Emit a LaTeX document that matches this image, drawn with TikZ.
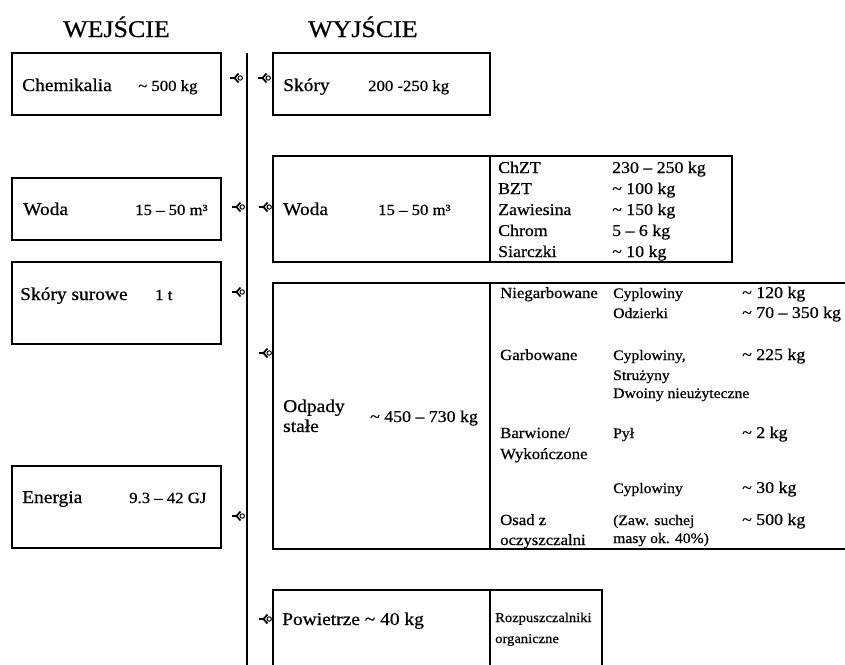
\documentclass[tikz,border=0pt]{standalone}
\usepackage{fontspec}
\setmainfont[FakeStretch=1.08,FakeBold=0.6]{Liberation Serif}
\begin{document}
\begin{tikzpicture}[x=1pt,y=-1pt,
  box/.style={draw, line width=1.3pt, inner sep=0pt, outer sep=0pt, anchor=north west},
  lab/.style={anchor=base west, inner sep=0pt, font=\fontsize{18}{20}\selectfont},
  val/.style={anchor=base west, inner sep=0pt, font=\fontsize{15.5}{18}\selectfont},
  tab/.style={anchor=base west, inner sep=0pt, font=\fontsize{16.5}{19}\selectfont},
  tabb/.style={anchor=base west, inner sep=0pt, font=\fontsize{14.5}{17}\selectfont},
  ttl/.style={anchor=base west, inner sep=0pt, font=\fontsize{24}{28}\selectfont},
  flowicon/.pic={
    \draw[line width=1.7pt] (-6.5,0) -- (-1.5,0);
    \draw[line width=1.7pt, line join=round] (2.5,-4.5) -- (-1.5,0) -- (2.5,4.5);
    \draw[line width=1pt] (4.2,0) circle (2.2);
  }]
\useasboundingbox (0,0) rectangle (845,664);
\fill[white] (0,0) rectangle (845,664);

% titles
\node[ttl] (tin) at (63,37) {WEJŚCIE};
\node[ttl] (tout) at (308,37) {WYJŚCIE};

% central line
\coordinate (vtop) at (247,53);
\coordinate (vbot) at (247,672);
\draw[line width=1.3pt] (vtop) -- (vbot);

% input boxes
\node[box, minimum width=209pt, minimum height=62pt] (chem) at (12,53) {};
\node[box, minimum width=209pt, minimum height=62pt] (wodain) at (12,178) {};
\node[box, minimum width=209pt, minimum height=82pt] (skin) at (12,262) {};
\node[box, minimum width=209pt, minimum height=82pt] (energ) at (12,466) {};

% output boxes
\node[box, minimum width=217pt, minimum height=62pt] (skout) at (273,53) {};
\node[box, minimum width=217pt, minimum height=106pt] (wodaout) at (273,156) {};
\node[box, minimum width=242pt, minimum height=106pt] (wodatab) at (490,156) {};
\node[box, minimum width=217pt, minimum height=266pt] (odp) at (273,283) {};
\node[box, minimum width=362pt, minimum height=266pt] (odptab) at (490,283) {};
\node[box, minimum width=217pt, minimum height=90pt] (pow) at (273,590) {};
\node[box, minimum width=112pt, minimum height=90pt] (powtab) at (490,590) {};

% icons
\pic at (236,78) {flowicon};
\pic at (264,78) {flowicon};
\pic at (238,207) {flowicon};
\pic at (265,207) {flowicon};
\pic at (238,292) {flowicon};
\pic at (265,353) {flowicon};
\pic at (238,516) {flowicon};
\pic at (265,619) {flowicon};

% input texts
\node[lab] (t1) at (22,91) {Chemikalia};
\node[val] (v1) at (138,91) {\textasciitilde{} 500 kg};
\node[lab] (t2) at (23,215) {Woda};
\node[val] (v2) at (135,215) {15 – 50 m³};
\node[lab] (t3) at (20,300) {Skóry surowe};
\node[val] (v3) at (155,300) {1 t};
\node[lab] (t4) at (22,503) {Energia};
\node[val] (v4) at (129,503) {9.3 – 42 GJ};

% output texts
\node[lab] (o1) at (283,91) {Skóry};
\node[val] (ov1) at (368,91) {200 -250 kg};
\node[lab] (o2) at (283,215) {Woda};
\node[val] (ov2) at (378,215) {15 – 50 m³};

\node[tab] (w1) at (498,173) {ChZT};
\node[tab] (w1v) at (612,173) {230 – 250 kg};
\node[tab] (w2) at (498,194) {BZT};
\node[tab] (w2v) at (612,194) {\textasciitilde{} 100 kg};
\node[tab] (w3) at (498,215) {Zawiesina};
\node[tab] (w3v) at (612,215) {\textasciitilde{} 150 kg};
\node[tab] (w4) at (498,236) {Chrom};
\node[tab] (w4v) at (612,236) {5 – 6 kg};
\node[tab] (w5) at (498,257) {Siarczki};
\node[tab] (w5v) at (612,257) {\textasciitilde{} 10 kg};

\node[lab] (o3a) at (283,412) {Odpady};
\node[lab] (o3b) at (283,432) {stałe};
\node[val,font=\fontsize{16.5}{19}\selectfont] (ov3) at (370,422) {\textasciitilde{} 450 – 730 kg};

\node[tab,font=\fontsize{15.5}{18}\selectfont] (p1) at (500,298) {Niegarbowane};
\node[tabb] (p1a) at (613,298) {Cyplowiny};
\node[tab] (p1av) at (742,298) {\textasciitilde{} 120 kg};
\node[tabb] (p1b) at (613,318) {Odzierki};
\node[tab] (p1bv) at (742,318) {\textasciitilde{} 70 – 350 kg};

\node[tab,font=\fontsize{15.5}{18}\selectfont] (p2) at (500,360) {Garbowane};
\node[tabb] (p2a) at (613,360) {Cyplowiny,};
\node[tabb] (p2b) at (613,380) {Strużyny};
\node[tabb] (p2c) at (613,398) {Dwoiny nieużyteczne};
\node[tab] (p2v) at (742,360) {\textasciitilde{} 225 kg};

\node[tab,font=\fontsize{15.5}{18}\selectfont] (p3) at (500,438) {Barwione/};
\node[tab,font=\fontsize{15.5}{18}\selectfont] (p3b) at (500,459) {Wykończone};
\node[tabb] (p3a) at (613,438) {Pył};
\node[tab] (p3av) at (742,438) {\textasciitilde{} 2 kg};
\node[tabb] (p3c) at (613,493) {Cyplowiny};
\node[tab] (p3cv) at (742,493) {\textasciitilde{} 30 kg};

\node[tab,font=\fontsize{15.5}{18}\selectfont] (p4) at (500,525) {Osad z};
\node[tab,font=\fontsize{15.5}{18}\selectfont] (p4b) at (500,545) {oczyszczalni};
\node[tabb] (p4a) at (613,525) {(Zaw. suchej};
\node[tabb] (p4c) at (613,543) {masy ok. 40\%)};
\node[tab] (p4v) at (742,525) {\textasciitilde{} 500 kg};

\node[lab] (o4) at (282,625) {Powietrze \textasciitilde{} 40 kg};
\node[tabb,font=\fontsize{13.5}{16}\selectfont] (r1) at (495,622) {Rozpuszczalniki};
\node[tabb,font=\fontsize{13.5}{16}\selectfont] (r2) at (495,643) {organiczne};
\end{tikzpicture}
\end{document}
